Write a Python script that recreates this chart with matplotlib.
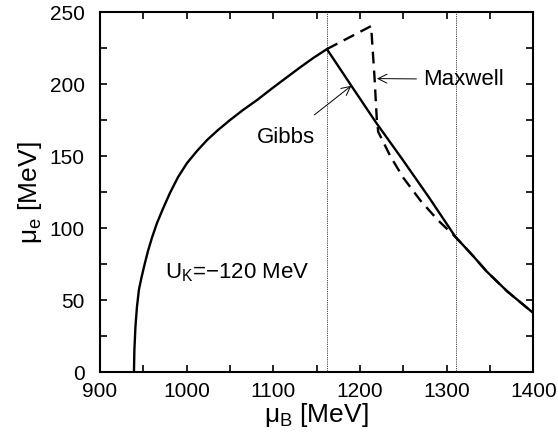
import matplotlib
matplotlib.use("Agg")
import matplotlib.pyplot as plt
from matplotlib.ticker import MultipleLocator

plt.rcParams['font.family'] = ['Liberation Sans', 'DejaVu Sans']
plt.rcParams['mathtext.fontset'] = 'custom'
plt.rcParams['mathtext.rm'] = 'Liberation Sans'
plt.rcParams['mathtext.it'] = 'Liberation Sans'
plt.rcParams['mathtext.bf'] = 'Liberation Sans:bold'

# Gibbs construction (solid)
gibbs_x = [939.3, 939.8, 941.0, 942.7, 945.0, 947.9, 951.4, 955.4, 960.0, 965.8, 972.7, 980.8,
           990.1, 1000.5, 1012.0, 1023.6, 1036.3, 1050.1, 1065.1, 1081.3, 1097.5, 1113.6,
           1129.8, 1146.0, 1161.8, 1190, 1219, 1248, 1280, 1310, 1330, 1346, 1370, 1400]
gibbs_y = [0, 15.5, 31.5, 45, 57.2, 65.5, 74.5, 84, 93.3, 103.5, 113.5, 124.5,
           135.5, 145.3, 153.7, 161.3, 168.3, 175.2, 182.2, 189.1, 196.7, 204.0,
           211.3, 218.3, 224.5, 199, 173, 148.6, 121, 94, 81, 70, 56, 41]

# Maxwell construction (dashed)
maxwell_x = [1161.8, 1212.8, 1216.7, 1219.4, 1221, 1235, 1250, 1270, 1290, 1310, 1330, 1346, 1370, 1400]
maxwell_y = [224.5, 240.5, 205, 175, 167, 150, 135, 119, 105.5, 94, 81, 70, 56, 41]

# mixed-phase boundaries (dotted)
boundaries = [1162, 1311]

fig = plt.figure(figsize=(5.58, 4.43), dpi=100)
ax = fig.add_axes([0.179, 0.160, 0.777, 0.812])

for b in boundaries:
    ax.axvline(b, color='black', linestyle=(0, (1, 1.2)), linewidth=0.6, zorder=1)

ax.plot(gibbs_x, gibbs_y, color='black', linewidth=1.7, zorder=3)
ax.plot(maxwell_x, maxwell_y, color='black', linewidth=1.7, linestyle=(0, (5, 3)), zorder=2)

ax.set_xlim(900, 1400)
ax.set_ylim(0, 250)
ax.xaxis.set_major_locator(MultipleLocator(100))
ax.xaxis.set_minor_locator(MultipleLocator(50))
ax.yaxis.set_major_locator(MultipleLocator(50))
ax.yaxis.set_minor_locator(MultipleLocator(25))
ax.tick_params(which='both', direction='in', top=True, right=True, width=1.2, labelsize=15)
ax.tick_params(axis='x', which='both', pad=7)
ax.tick_params(axis='y', which='both', pad=11)
ax.tick_params(which='major', length=5)
ax.tick_params(which='minor', length=5)
for s in ax.spines.values():
    s.set_linewidth(1.5)

ax.set_xlabel(r'$\mu_\mathregular{B}$ [MeV]', fontsize=19, labelpad=0)
ax.set_ylabel(r'$\mu_\mathregular{e}$ [MeV]', fontsize=19, labelpad=4)

ax.text(975, 69, r'U$_\mathregular{K}$=$-$120 MeV', fontsize=16, va='center', ha='left')

ax.annotate('Maxwell', xy=(1219.5, 204), xytext=(1273, 203.5), fontsize=16,
            va='center', ha='left',
            arrowprops=dict(arrowstyle='->', color='black', lw=0.7, shrinkA=3, shrinkB=0))
ax.annotate('Gibbs', xy=(1190, 199), xytext=(1114, 163), fontsize=16,
            va='center', ha='center',
            arrowprops=dict(arrowstyle='->', color='black', lw=0.7, shrinkA=11, shrinkB=0))

fig.savefig('out.png', dpi=100)
